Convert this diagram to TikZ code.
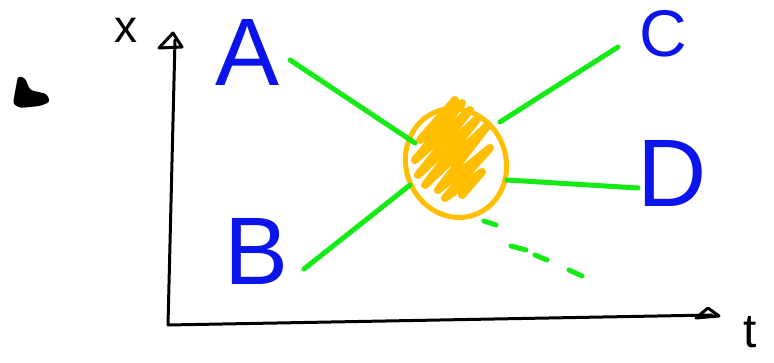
\documentclass[tikz,border=0pt]{standalone}
\usepackage{fontspec}
\setmainfont{Liberation Sans}
\definecolor{penblue}{RGB}{10,20,235}
\definecolor{pengreen}{RGB}{20,235,20}
\definecolor{penorange}{RGB}{255,190,0}
\begin{document}
\begin{tikzpicture}[x=1pt,y=-1pt,
  letter/.style={text=penblue,inner sep=0pt,font=\fontsize{96}{96}\selectfont},
  axislabel/.style={text=black,inner sep=0pt},
  axisline/.style={line width=3pt,black,line cap=round,line join=round},
  particle/.style={line width=5pt,pengreen,line cap=round},
  blob/.style={line width=5pt,penorange,line cap=round,line join=round}]
\useasboundingbox (0,0) rectangle (774,363);
% labels
\node[letter] (A) at (248,52) {A};
\node[letter] (B) at (257,251) {B};
\node[letter,font=\fontsize{66}{66}\selectfont] (C) at (663,34) {C};
\node[letter] (D) at (672,173) {D};
\node[axislabel,font=\fontsize{46}{46}\selectfont] (xl) at (126,30) {x};
\node[axislabel,font=\fontsize{48}{48}\selectfont] (tl) at (750,332) {t};
% axes
\coordinate (O) at (168,325);
\coordinate (ytop) at (175,40);
\coordinate (xend) at (712,315);
\draw[axisline] (O) -- (ytop);
\draw[axisline] (O) -- (xend);
\draw[axisline] (159,48) -- (173,33) -- (182,47) -- cycle;
\draw[axisline] (696,318) -- (708,308) -- (719,316) -- cycle;
% black mark
\fill[black,rounded corners=3pt] (18,76) -- (25,78) -- (30,90) -- (47,94) -- (50,102) -- (40,106) -- (20,108) -- (13,104) -- (15,92) -- cycle;
% vertex blob
\coordinate (V) at (456,163);
\draw[blob,rotate around={20:(V)}] (V) ellipse [x radius=50pt,y radius=55pt];
\draw[blob,line width=8pt] (455,100) -- (420,140) -- (462,103) -- (415,160) -- (470,110) -- (418,175) -- (478,118) -- (425,185) -- (488,125) -- (438,190) -- (490,148) -- (445,198) -- (482,172) -- (462,195);
% particle lines
\coordinate (a1) at (290,60); \coordinate (a2) at (415,143);
\coordinate (b1) at (304,269); \coordinate (b2) at (410,185);
\coordinate (c1) at (500,122); \coordinate (c2) at (618,47);
\coordinate (d1) at (507,180); \coordinate (d2) at (638,188);
\draw[particle] (a1) -- (a2);
\draw[particle] (b1) -- (b2);
\draw[particle] (c1) -- (c2);
\draw[particle] (d1) -- (d2);
\draw[particle] (484,221) -- (496,225);
\draw[particle] (511,246) -- (526,250);
\draw[particle] (535,255) -- (547,260);
\draw[particle] (569,270) -- (582,276);
\end{tikzpicture}
\end{document}
